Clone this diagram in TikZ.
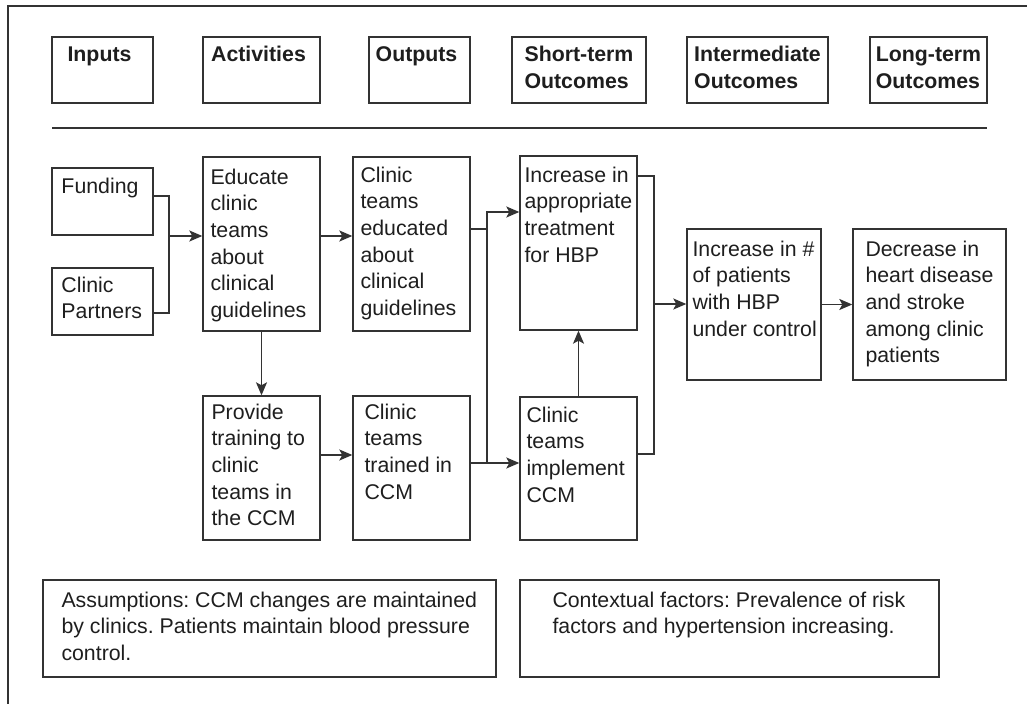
\documentclass[tikz,border=0pt]{standalone}
\usepackage{fontspec}
\setmainfont{Liberation Sans}
\usetikzlibrary{arrows.meta}
\frenchspacing

\definecolor{ink}{HTML}{1E1E1E}
\definecolor{edge}{HTML}{333333}

% stacked lines of text whose baseline is the first line
\newcommand\lines[1]{\begin{tabular}[t]{@{}l@{}}#1\end{tabular}}
% a framed panel given by its corners (x1,y1) and (x2,y2)
\newcommand\panel[5]{%
  \node[panel, minimum width={(#4-#2)*1bp}, minimum height={(#5-#3)*1bp}]
    (#1) at ({(#2+#4)/2},{(#3+#5)/2}) {};}
% text set into a panel: left pad, depth of first baseline, lines
\newcommand\paneltext[4]{%
  \node[body, anchor=base west] (#1-t) at ([xshift=#2bp,yshift=-#3bp]#1.north west) {\lines{#4}};}
\newcommand\headtext[3]{%
  \node[head, anchor=base] (#1-t) at ([xshift=#2bp,yshift=-25bp]#1.north) {\lines{#3}};}

\begin{document}
\begin{tikzpicture}[x=1bp, y=-1bp,
  panel/.style={draw=edge, line width=1.4bp, rectangle, inner sep=0pt},
  body/.style={inner sep=0pt, text=ink, font=\fontsize{21.3bp}{26.6bp}\selectfont},
  head/.style={body, font=\fontsize{21.3bp}{27.5bp}\selectfont\bfseries},
  link/.style={draw=edge, line width=1.4bp},
  arr/.style={link, -{Stealth[length=13bp,width=11bp,inset=3bp]}}]
\useasboundingbox (0,0) rectangle (1027,704);

% outer frame (runs off the page at right and bottom)
\draw[edge, line width=1.4bp] (8,730) -- (8,6) -- (1050,6);

% column headings
\panel{hin}{52}{37}{153}{103}   \headtext{hin}{-3}{Inputs}
\panel{hact}{203}{37}{320}{103} \headtext{hact}{-3}{Activities}
\panel{hout}{369}{37}{470}{103} \headtext{hout}{-3}{Outputs}
\panel{hst}{512}{37}{646}{103}  \headtext{hst}{0}{Short-term\\Outcomes}
\panel{him}{687}{37}{828}{103}  \headtext{him}{0}{Intermediate\\Outcomes}
\panel{hlt}{870}{37}{987}{103}  \headtext{hlt}{0}{Long-term\\Outcomes}

\draw[edge, line width=1.4bp] (52,128) -- (987,128);

% logic model panels
\panel{fund}{52}{168}{153}{235}  \paneltext{fund}{10}{26}{Funding}
\panel{part}{52}{268}{153}{335}  \paneltext{part}{10}{25}{Clinic\\Partners}
\panel{educ}{203}{157}{320}{331} \paneltext{educ}{8}{28}{Educate\\clinic\\teams\\about\\clinical\\guidelines}
\panel{edcd}{353}{157}{470}{331} \paneltext{edcd}{8}{26}{Clinic\\teams\\educated\\about\\clinical\\guidelines}
\panel{incr}{520}{156}{637}{330} \paneltext{incr}{5}{27}{Increase in\\appropriate\\treatment\\for HBP}
\panel{incn}{687}{229}{821}{380} \paneltext{incn}{6}{28}{Increase in \#\\of patients\\with HBP\\under control}
\panel{decr}{853}{229}{1006}{380} \paneltext{decr}{13}{28}{Decrease in\\heart disease\\and stroke\\among clinic\\patients}
\panel{prov}{203}{396}{320}{540} \paneltext{prov}{9}{24}{Provide\\training to\\clinic\\teams in\\the CCM}
\panel{trnd}{353}{396}{470}{540} \paneltext{trnd}{12}{24}{Clinic\\teams\\trained in\\CCM}
\panel{impl}{520}{397}{637}{540} \paneltext{impl}{7}{26}{Clinic\\teams\\implement\\CCM}

% assumptions and context
\panel{assu}{43}{580}{496}{677}  \paneltext{assu}{19}{28}{Assumptions: CCM changes are maintained\\by clinics. Patients maintain blood pressure\\control.}
\panel{ctx}{520}{580}{939}{677}  \paneltext{ctx}{33}{28}{Contextual factors: Prevalence of risk\\factors and hypertension increasing.}

% junction points of the connectors
\coordinate (jin) at (169,236);
\coordinate (jup) at (487,212);
\coordinate (jdn) at (487,463);
\coordinate (jout) at (654,304);

% inputs feed the first activity
\draw[link] (fund.east |- 0,196) -| (jin) |- (part.east |- 0,313);
\draw[arr] (jin) -- (educ.west |- jin);

% activities and outputs
\draw[arr] (educ.east |- 0,236) -- (edcd.west |- 0,236);
\draw[arr] (educ.south) -- (prov.north);
\draw[arr] (prov.east |- 0,455) -- (trnd.west |- 0,455);

% outputs to short-term outcomes
\draw[link] (edcd.east |- 0,229) -- (jup |- 0,229);
\draw[arr] (jdn) -- (jup) -- (incr.west |- jup);
\draw[arr] (trnd.east |- jdn) -- (impl.west |- jdn);
\draw[arr] (impl.north) -- (incr.south);

% short-term to intermediate and long-term outcomes
\draw[link] (incr.east |- 0,176) -| (jout) |- (impl.east |- 0,454);
\draw[arr] (jout) -- (incn.west |- jout);
\draw[arr] (incn.east) -- (decr.west);
\end{tikzpicture}
\end{document}
